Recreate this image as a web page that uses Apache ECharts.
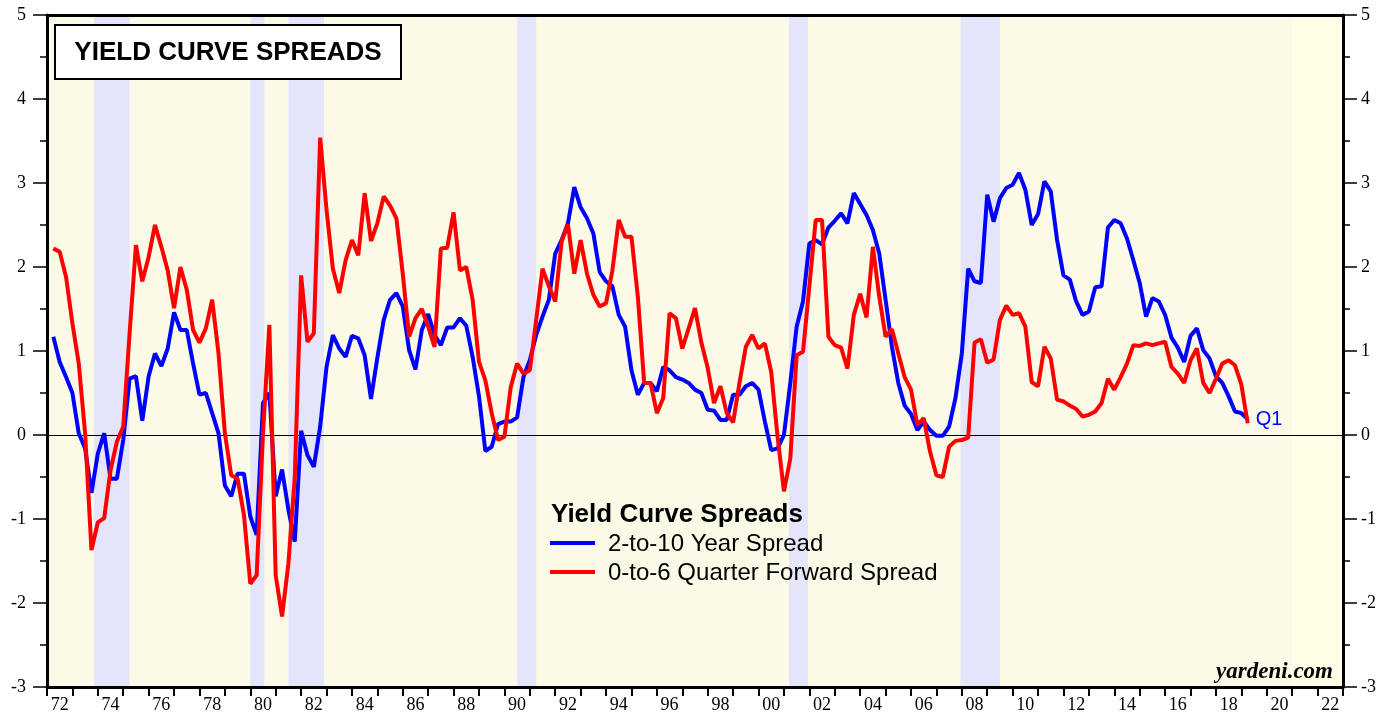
<!DOCTYPE html>
<html>
<head>
<meta charset="utf-8">
<script src="https://cdn.jsdelivr.net/npm/echarts@6/dist/echarts.min.js"></script>
<style>
  html, body { margin: 0; padding: 0; background: #fff; }
  #chart { width: 1395px; height: 719px; }
</style>
</head>
<body>
<div id="chart"></div>
<script>
'use strict'

// quarterly readings, first one is 1972 Q1, last one 2019 Q1
const firstYear = 1972

// 2-to-10 year spread (blue)
const twoToTen = [
  1.17, 0.87, 0.69, 0.50, 0.02, -0.16, -0.69, -0.22, 0.02, -0.52,
  -0.52, -0.06, 0.67, 0.70, 0.17, 0.70, 0.97, 0.82, 1.03, 1.46,
  1.25, 1.25, 0.85, 0.48, 0.50, 0.26, 0.02, -0.60, -0.73, -0.46,
  -0.46, -0.97, -1.19, 0.38, 0.50, -0.73, -0.41, -0.89, -1.27, 0.05,
  -0.24, -0.38, 0.10, 0.81, 1.19, 1.03, 0.93, 1.18, 1.15, 0.95,
  0.43, 0.92, 1.37, 1.61, 1.69, 1.53, 1.01, 0.78, 1.25, 1.44,
  1.19, 1.07, 1.28, 1.28, 1.39, 1.30, 0.93, 0.46, -0.19, -0.14,
  0.13, 0.16, 0.16, 0.21, 0.69, 0.89, 1.19, 1.41, 1.61, 2.16,
  2.32, 2.52, 2.95, 2.71, 2.58, 2.40, 1.94, 1.83, 1.77, 1.43,
  1.29, 0.77, 0.48, 0.62, 0.62, 0.52, 0.81, 0.77, 0.69, 0.66,
  0.62, 0.54, 0.50, 0.30, 0.29, 0.18, 0.18, 0.48, 0.48, 0.58,
  0.62, 0.54, 0.16, -0.18, -0.16, 0.00, 0.62, 1.29, 1.59, 2.28,
  2.32, 2.27, 2.47, 2.55, 2.64, 2.52, 2.88, 2.75, 2.62, 2.44,
  2.16, 1.61, 1.05, 0.62, 0.35, 0.25, 0.06, 0.16, 0.06, -0.01,
  -0.01, 0.10, 0.44, 0.97, 1.98, 1.83, 1.81, 2.86, 2.54, 2.82,
  2.94, 2.98, 3.12, 2.92, 2.50, 2.63, 3.02, 2.90, 2.32, 1.90,
  1.85, 1.59, 1.43, 1.47, 1.76, 1.77, 2.47, 2.56, 2.52, 2.34,
  2.08, 1.81, 1.41, 1.63, 1.59, 1.43, 1.16, 1.04, 0.87, 1.18,
  1.27, 1.01, 0.91, 0.70, 0.62, 0.46, 0.28, 0.26, 0.19
]

// 0-to-6 quarter forward spread (red)
const zeroToSix = [
  2.22, 2.18, 1.88, 1.33, 0.85, 0.02, -1.37, -1.04, -0.99, -0.42,
  -0.08, 0.10, 1.21, 2.26, 1.83, 2.12, 2.50, 2.24, 1.96, 1.51,
  2.00, 1.73, 1.25, 1.10, 1.27, 1.61, 0.97, 0.02, -0.48, -0.52,
  -0.95, -1.77, -1.67, 0.02, 1.31, -1.67, -2.16, -1.53, -0.50, 1.90,
  1.11, 1.21, 3.54, 2.68, 1.98, 1.69, 2.08, 2.32, 2.14, 2.88,
  2.31, 2.52, 2.84, 2.73, 2.58, 1.92, 1.17, 1.39, 1.50, 1.29,
  1.05, 2.22, 2.23, 2.65, 1.96, 2.00, 1.61, 0.87, 0.65, 0.26,
  -0.06, -0.02, 0.57, 0.85, 0.73, 0.77, 1.37, 1.98, 1.77, 1.59,
  2.30, 2.51, 1.92, 2.32, 1.92, 1.67, 1.53, 1.57, 1.96, 2.56,
  2.36, 2.36, 1.65, 0.62, 0.62, 0.26, 0.44, 1.45, 1.39, 1.03,
  1.27, 1.51, 1.10, 0.80, 0.38, 0.58, 0.26, 0.15, 0.62, 1.05,
  1.19, 1.03, 1.09, 0.75, -0.02, -0.67, -0.28, 0.95, 0.99, 1.77,
  2.56, 2.56, 1.17, 1.07, 1.04, 0.79, 1.43, 1.68, 1.40, 2.24,
  1.65, 1.17, 1.26, 0.97, 0.69, 0.54, 0.12, 0.20, -0.20, -0.48,
  -0.50, -0.14, -0.07, -0.06, -0.03, 1.10, 1.14, 0.86, 0.90, 1.37,
  1.54, 1.43, 1.45, 1.29, 0.63, 0.58, 1.05, 0.91, 0.42, 0.40,
  0.35, 0.31, 0.22, 0.24, 0.28, 0.38, 0.67, 0.54, 0.69, 0.85,
  1.07, 1.06, 1.09, 1.07, 1.09, 1.11, 0.81, 0.73, 0.62, 0.89,
  1.03, 0.62, 0.50, 0.67, 0.85, 0.89, 0.83, 0.60, 0.14
]

// recession bands, in years
const recessions = [
  [1973.85, 1975.25],
  [1980.0, 1980.55],
  [1981.5, 1982.9],
  [1990.5, 1991.25],
  [2001.2, 2001.95],
  [2007.95, 2009.5]
]
const futureBand = [2021, 2023]

const seriesNames = ['2-to-10 Year Spread', '0-to-6 Quarter Forward Spread']
const lastLabel = 'Q1'

// x of a quarter = end of that quarter
const toPoints = arr => arr.map((v, i) => [firstYear + (i + 1) * 0.25, v])

const serif = 'Liberation Serif'
const sans = 'Liberation Sans'

const chart = echarts.init(document.getElementById('chart'), null, { renderer: 'canvas' })

const yAxisBase = {
  type: 'value',
  min: -3,
  max: 5,
  interval: 1,
  z: 10,
  axisLine: { show: true, onZero: false, lineStyle: { color: '#000', width: 3 } },
  axisTick: { show: true, length: 14, lineStyle: { color: '#000', width: 1.5 } },
  minorTick: { show: true, splitNumber: 2, length: 7, lineStyle: { color: '#000', width: 1.5 } },
  splitLine: { show: false },
  axisLabel: { color: '#000', fontFamily: serif, fontSize: 18 }
}

const option = {
  animation: false,
  backgroundColor: '#fff',
  grid: {
    left: 47, right: 52, top: 15, bottom: 32,
    show: true, backgroundColor: '#FBFAE6', borderWidth: 0
  },
  xAxis: [
    {
      // year ticks
      type: 'value', min: 1972, max: 2023, interval: 1, position: 'bottom', z: 10,
      axisLine: { show: true, onZero: false, lineStyle: { color: '#000', width: 3 } },
      axisTick: { show: true, length: 9, lineStyle: { color: '#000', width: 2 } },
      axisLabel: { show: false },
      splitLine: { show: false }
    },
    {
      // labels sit in the middle of the year
      type: 'value', min: 1971.5, max: 2022.5, interval: 0.5, position: 'bottom',
      axisLine: { show: false, onZero: false },
      axisTick: { show: false },
      splitLine: { show: false },
      axisLabel: {
        color: '#000', fontFamily: serif, fontSize: 18, margin: 9,
        formatter: v => {
          const r = Math.round(v)
          if (Math.abs(v - r) > 1e-6 || r % 2 !== 0) return ''
          return String(r % 100).padStart(2, '0')
        }
      }
    },
    {
      type: 'value', min: 1972, max: 2023, position: 'top', z: 10,
      axisLine: { show: true, onZero: false, lineStyle: { color: '#000', width: 3 } },
      axisTick: { show: false }, axisLabel: { show: false }, splitLine: { show: false }
    }
  ],
  yAxis: [
    Object.assign({}, yAxisBase, { position: 'left', axisLabel: Object.assign({}, yAxisBase.axisLabel, { margin: 21 }) }),
    Object.assign({}, yAxisBase, { position: 'right', axisLabel: Object.assign({}, yAxisBase.axisLabel, { margin: 18 }) })
  ],
  series: [
    {
      name: 'bands',
      type: 'line',
      data: [],
      silent: true,
      markArea: {
        silent: true,
        z: 1,
        itemStyle: { color: '#E4E4FA' },
        data: recessions.map(r => [{ xAxis: r[0] }, { xAxis: r[1] }]).concat([
          [{ xAxis: futureBand[0], itemStyle: { color: '#FFFFE8' } }, { xAxis: futureBand[1] }]
        ])
      },
      markLine: {
        silent: true,
        z: 1.5,
        symbol: 'none',
        label: { show: false },
        lineStyle: { color: '#000', width: 1, type: 'solid' },
        data: [{ yAxis: 0 }]
      }
    },
    {
      name: seriesNames[0],
      type: 'line',
      z: 2,
      data: toPoints(twoToTen),
      showSymbol: false,
      lineStyle: { color: '#0000FF', width: 4 },
      itemStyle: { color: '#0000FF' },
      endLabel: {
        show: true, formatter: lastLabel, color: '#0000FF',
        fontFamily: sans, fontSize: 20, distance: 8
      }
    },
    {
      name: seriesNames[1],
      type: 'line',
      z: 3,
      data: toPoints(zeroToSix),
      showSymbol: false,
      lineStyle: { color: '#FF0000', width: 4 },
      itemStyle: { color: '#FF0000' }
    }
  ],
  graphic: [
    {
      type: 'rect', z: 100,
      shape: { x: 55, y: 25, width: 346, height: 54 },
      style: { fill: '#fff', stroke: '#000', lineWidth: 2 }
    },
    {
      type: 'text', z: 101, x: 228, y: 53,
      style: {
        text: 'YIELD CURVE SPREADS', fill: '#000', fontFamily: sans,
        fontWeight: 'bold', fontSize: 26, align: 'center', verticalAlign: 'middle'
      }
    },
    {
      type: 'text', z: 101, x: 551, y: 515,
      style: {
        text: 'Yield Curve Spreads', fill: '#000', fontFamily: sans,
        fontWeight: 'bold', fontSize: 26, align: 'left', verticalAlign: 'middle'
      }
    },
    {
      type: 'line', z: 101,
      shape: { x1: 550, y1: 543, x2: 595, y2: 543 },
      style: { stroke: '#0000FF', lineWidth: 4 }
    },
    {
      type: 'text', z: 101, x: 608, y: 544,
      style: {
        text: seriesNames[0], fill: '#000', fontFamily: sans,
        fontSize: 24, align: 'left', verticalAlign: 'middle'
      }
    },
    {
      type: 'line', z: 101,
      shape: { x1: 550, y1: 572, x2: 595, y2: 572 },
      style: { stroke: '#FF0000', lineWidth: 4 }
    },
    {
      type: 'text', z: 101, x: 608, y: 573,
      style: {
        text: seriesNames[1], fill: '#000', fontFamily: sans,
        fontSize: 24, align: 'left', verticalAlign: 'middle'
      }
    },
    {
      type: 'text', z: 101, x: 1333, y: 672,
      style: {
        text: 'yardeni.com', fill: '#000', fontFamily: serif,
        fontWeight: 'bold', fontStyle: 'italic', fontSize: 23,
        align: 'right', verticalAlign: 'middle'
      }
    }
  ]
}

chart.setOption(option)
</script>
</body>
</html>
